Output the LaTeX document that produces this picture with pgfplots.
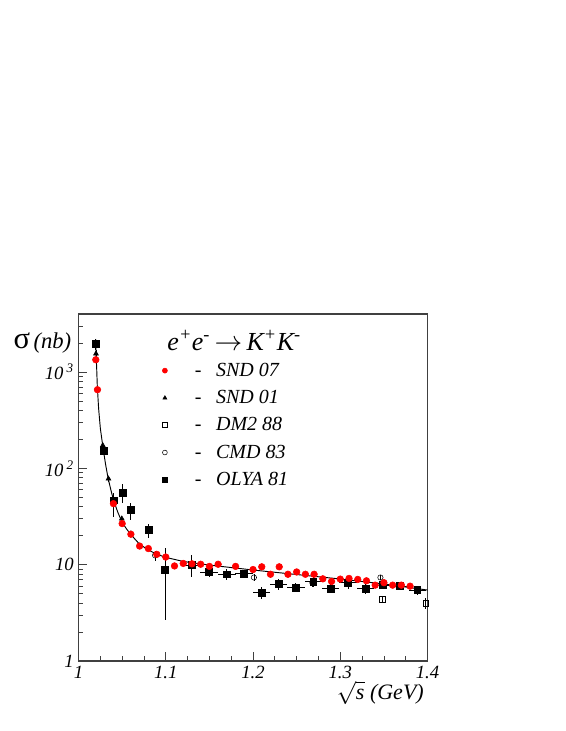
\documentclass[border=0pt]{standalone}
\usepackage{fontspec}
\setmainfont{Liberation Serif}
\usepackage{pgfplots}
\pgfplotsset{compat=1.18}

\begin{document}
\begin{tikzpicture}
\useasboundingbox (-58.9pt,-52.5pt) rectangle (364.9pt,495.75pt);
\begin{axis}[
  at={(0,0)}, anchor=south west,
  scale only axis, width=261.75pt, height=260.25pt,
  ymode=log, xmin=1, xmax=1.4, ymin=1, ymax=4000,
  xtick={1,1.1,1.2,1.3,1.4}, xticklabels={1,1.1,1.2,1.3,1.4},
  minor x tick num=3,
  ytick={1,10,100,1000},
  yticklabels={1,10,10\,\textsuperscript{2},10\,\textsuperscript{3}},
  minor ytick={2,3,4,5,6,7,8,9,20,30,40,50,60,70,80,90,200,300,400,500,600,700,800,900,2000,3000},
  tick pos=left, tick align=inside,
  major tick length=6.5pt, minor tick length=3.5pt,
  tick style={black!75, line width=0.6pt},
  axis line style={black!75, line width=0.9pt},
  ticklabel style={font=\itshape\fontsize{14}{16}\selectfont},
  clip mode=individual,
  legend style={at={(rel axis cs:0.228,0.875)}, anchor=north west, draw=none, fill=none,
    font=\itshape\fontsize{15}{17}\selectfont, row sep=5pt},
  legend cell align=left,
]
% model curve
\addplot[black, line width=0.7pt, forget plot] coordinates {
 (1.0195,2200) (1.0205,1300) (1.0215,720) (1.023,420) (1.025,260) (1.028,165)
 (1.031,110) (1.034,78) (1.037,60) (1.040,47) (1.045,35) (1.050,27.5)
 (1.055,23.5) (1.060,20.5) (1.070,16.3) (1.080,14.2) (1.090,12.8) (1.100,11.9)
 (1.120,10.8) (1.150,9.9) (1.200,8.8) (1.250,7.9) (1.300,7.1) (1.350,6.3) (1.400,5.45)
};
% SND 01
\addplot[only marks, mark=triangle*, mark size=2.1pt, black, forget plot,
  error bars/.cd, y dir=both, y explicit, error mark=none, error bar style={line width=0.6pt}]
  coordinates {
 (1.0200,1550) +- (0,150) (1.0217,660) +- (0,60) (1.0278,173) +- (0,10)
 (1.0343,78) +- (0,5) (1.0496,30) +- (0,2) (1.0600,21) +- (0,1.5)
};
% OLYA 81
\addplot[only marks, mark=square*, mark size=2.6pt, black, forget plot,
  error bars/.cd, y dir=both, y explicit, x dir=both, x explicit, error mark=none,
  error bar style={line width=0.6pt}]
  coordinates {
 (1.0198,1960) +- (0,250) (1.0293,151) +- (0,15)
 (1.0400,46.6) += (0,8.4) -= (0,15.6)
 (1.0503,56) +- (0,12) (1.0600,37) += (0,7) -= (0,8)
 (1.0800,22.8) += (0,3.5) -= (0,4) (1.0990,8.9) += (0,5.9) -= (0,6.24)
 (1.1297,9.9) += (0.01,2.6) -= (0.01,2.4)
 (1.1496,8.4) +- (0.01,1.0) (1.1700,7.95) +- (0.01,1.0) (1.1897,8.1) +- (0.01,0.8)
 (1.2100,5.1) +- (0.01,0.7) (1.2290,6.28) +- (0.01,0.8) (1.2490,5.8) +- (0.01,0.6)
 (1.2690,6.64) +- (0.01,0.8) (1.2890,5.67) +- (0.01,0.6) (1.3090,6.5) +- (0.01,0.9)
 (1.3287,5.67) +- (0.01,0.7) (1.3486,6.13) +- (0.01,0.6) (1.3684,5.98) +- (0.01,0.5)
 (1.3882,5.44) +- (0.01,0.6)
};
% CMD 83
\addplot[only marks, mark=o, mark size=2.0pt, black, forget plot,
  error bars/.cd, y dir=both, y explicit, error mark=none, error bar style={line width=0.6pt}]
  coordinates {
 (1.0877,12.5) +- (0,1.5) (1.2010,7.36) +- (0,0.6) (1.2680,6.47) +- (0,0.6) (1.3460,7.36) +- (0,0.5)
};
% DM2 88
\addplot[only marks, mark=square, mark size=2.0pt, black, forget plot,
  error bars/.cd, y dir=both, y explicit, error mark=none, error bar style={line width=0.6pt}]
  coordinates {
 (1.3480,4.36) +- (0,0.4) (1.3980,3.96) +- (0,0.5)
};
% SND 07
\addplot[only marks, mark=*, mark size=2.5pt, red, mark options={draw=red, fill=red}, forget plot,
  error bars/.cd, y dir=both, y explicit, error mark=none, error bar style={black, line width=0.5pt}]
  coordinates {
 (1.0198,1340) +- (0,60) (1.0217,655) +- (0,30) (1.0400,43) +- (0,2) (1.0500,26.7) +- (0,1.2)
 (1.0600,20.7) +- (0,1) (1.0700,15.6) +- (0,0.9) (1.0800,14.7) +- (0,0.8) (1.0897,12.8) +- (0,0.8)
 (1.1000,12.0) +- (0,0.7) (1.1100,9.7) +- (0,0.6) (1.1200,10.3) +- (0,0.6) (1.1300,10.2) +- (0,0.6)
 (1.1400,10.1) +- (0,0.6) (1.1500,9.6) +- (0,0.6) (1.1600,10.1) +- (0,0.6) (1.1800,9.6) +- (0,0.5)
 (1.2000,8.9) +- (0,0.5) (1.2100,9.5) +- (0,0.5) (1.2200,7.95) +- (0,0.5) (1.2300,9.5) +- (0,0.6)
 (1.2400,7.95) +- (0,0.5) (1.2500,8.4) +- (0,0.5) (1.2600,7.95) +- (0,0.5) (1.2700,7.95) +- (0,0.5)
 (1.2800,7.13) +- (0,0.4) (1.2900,6.7) +- (0,0.4) (1.3000,7.08) +- (0,0.4) (1.3100,7.2) +- (0,0.5)
 (1.3200,7.03) +- (0,0.5) (1.3300,6.8) +- (0,0.4) (1.3400,6.13) +- (0,0.4) (1.3500,6.5) +- (0,0.4)
 (1.3600,6.13) +- (0,0.4) (1.3700,6.13) +- (0,0.4) (1.3800,5.98) +- (0,0.4)
};
% legend
\addlegendimage{only marks, mark=*, mark size=1.9pt, red, mark options={draw=red, fill=red}}
\addlegendentry{\hspace{18.5pt}\upshape-\hspace{11pt}\itshape SND 07}
\addlegendimage{only marks, mark=triangle*, mark size=1.7pt, black}
\addlegendentry{\hspace{18.5pt}\upshape-\hspace{11pt}\itshape SND 01}
\addlegendimage{only marks, mark=square, mark size=1.9pt, black}
\addlegendentry{\hspace{18.5pt}\upshape-\hspace{11pt}\itshape DM2 88}
\addlegendimage{only marks, mark=o, mark size=1.8pt, black}
\addlegendentry{\hspace{18.5pt}\upshape-\hspace{11pt}\itshape CMD 83}
\addlegendimage{only marks, mark=square*, mark size=1.9pt, black}
\addlegendentry{\hspace{18.5pt}\upshape-\hspace{11pt}\itshape OLYA 81}
% labels
\node[anchor=east, inner sep=0pt] at (rel axis cs:-0.02,0.916)
  {{\fontsize{23}{24}\selectfont σ} \itshape\fontsize{17}{19}\selectfont (nb)};
\node[inner sep=0pt] at (rel axis cs:0.446,0.925)
  {\fontsize{19.5}{22}\selectfont\itshape e\textsuperscript{+}e\textsuperscript{-}\,$\rightarrow$\,K\textsuperscript{+}K\textsuperscript{-}};
\node[anchor=east, inner sep=0pt] at (rel axis cs:0.99,-0.092)
  {\fontsize{16.5}{19}\selectfont $\sqrt{\textit{s}}$ \itshape (GeV)};
\end{axis}
\end{tikzpicture}
\end{document}
